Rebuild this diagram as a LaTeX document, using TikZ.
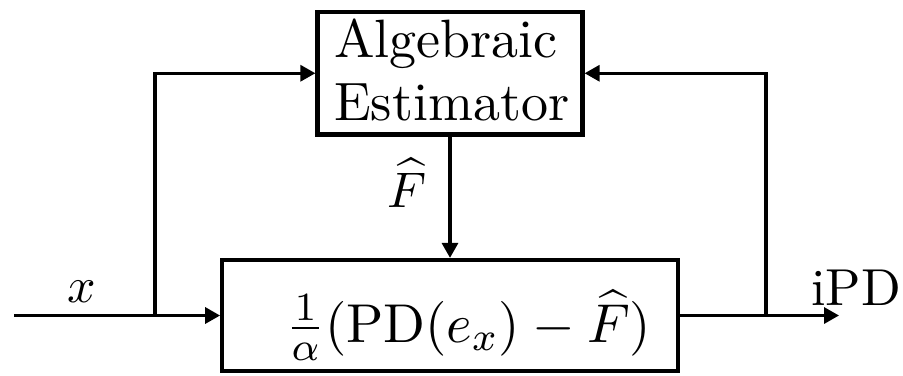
\documentclass[tikz,border=0pt]{standalone}
\usetikzlibrary{arrows.meta}
\begin{document}
\begin{tikzpicture}[x=0.2pt,y=-0.2pt,
  font=\fontsize{10.4}{12.6}\selectfont,
  bigtext/.style={font=\fontsize{10.8}{13}\selectfont},
  blockbox/.style={draw, line width=0.85pt, inner sep=0pt, line join=miter},
  conn/.style={line width=0.65pt, line join=miter},
  arr/.style={conn, -{Triangle[length=3pt,width=3.2pt]}}]
\useasboundingbox (0,0) rectangle (903,375);
% blocks
\node[blockbox, minimum width=53pt, minimum height=24.5pt] (est) at (450,73.25) {};
\node[bigtext, anchor=base west, inner sep=0pt] (alg) at (333,57) {Algebraic};
\node[bigtext, anchor=base west, inner sep=0pt] (estm) at (333,120) {Estimator};
\node[blockbox, minimum width=91.1pt, minimum height=22.2pt] (ctrl) at (450,315.5) {};
\node[bigtext, anchor=base] (fml) at (468.5,342) {$\frac{1}{\alpha}(\mathrm{PD}(e_x)-\widehat{F})$};
% coordinates
\coordinate (in) at (14,315.5);
\coordinate (bl) at (155,315.5);
\coordinate (br) at (766,315.5);
\coordinate (out) at (839,315.5);
% connectors
\draw[arr] (in) -- (ctrl.west);
\draw[arr] (bl) |- (est.west);
\draw[arr] (ctrl.east) -- (out);
\draw[arr] (br) |- (est.east);
\draw[arr] (est.south) -- (ctrl.north);
% labels
\node[anchor=base] (xl) at (82,302) {$x$};
\node[anchor=base] (Fl) at (407,207) {$\widehat{F}$};
\node[anchor=base] (ipd) at (856,305) {iPD};
\end{tikzpicture}
\end{document}
